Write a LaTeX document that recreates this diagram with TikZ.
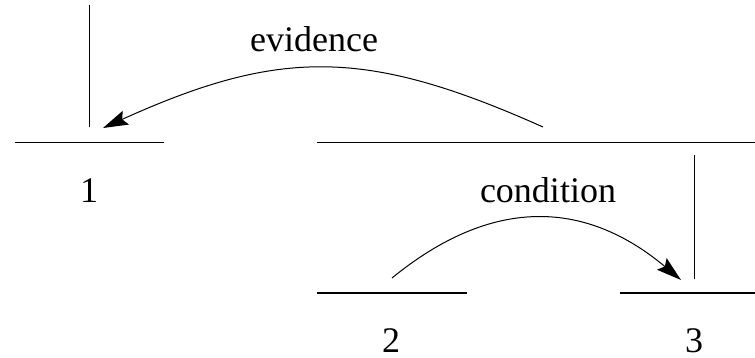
\documentclass[tikz,border=0pt]{standalone}
\usepackage{fontspec}
\setmainfont{Liberation Serif}
\usetikzlibrary{arrows.meta}
\begin{document}
\begin{tikzpicture}[x=1pt,y=-1pt,
  bar/.style={line width=1.2pt},
  rel/.style={line width=1pt,-{Stealth[length=25pt,width=15pt,inset=4pt]}},
  lbl/.style={font=\fontsize{36}{40}\selectfont,anchor=base,inner sep=0pt}]
\useasboundingbox (0,0) rectangle (755,358);
% levels
\coordinate (l1a) at (15,142.5); \coordinate (l1b) at (164,142.5);
\coordinate (l0a) at (317,142.5); \coordinate (l0b) at (755,142.5);
\coordinate (l2a) at (317,293); \coordinate (l2b) at (467,293);
\coordinate (l3a) at (620,293); \coordinate (l3b) at (755,293);
\draw[bar] (l1a) -- (l1b);
\draw[bar] (l0a) -- (l0b);
\draw[bar] (l2a) -- (l2b);
\draw[bar] (l3a) -- (l3b);
% verticals
\coordinate (v1t) at (89,5); \coordinate (v1b) at (89,127);
\coordinate (v3t) at (694,155); \coordinate (v3b) at (694,279);
\draw[line width=1pt] (v1t) -- (v1b);
\draw[line width=1pt] (v3t) -- (v3b);
% arcs
\coordinate (e0) at (543,127); \coordinate (e1) at (103,128);
\draw[rel] (e0) .. controls (366,48) and (280,48) .. (e1);
\coordinate (c0) at (392,278); \coordinate (c1) at (681,280);
\draw[rel] (c0) .. controls (490,198) and (583,198) .. (c1);
% labels
\node[lbl] (ev) at (314,52) {evidence};
\node[lbl] (co) at (548,203) {condition};
\node[lbl] (n1) at (89,203) {1};
\node[lbl] (n2) at (391,352) {2};
\node[lbl] (n3) at (694,352) {3};
\end{tikzpicture}
\end{document}
